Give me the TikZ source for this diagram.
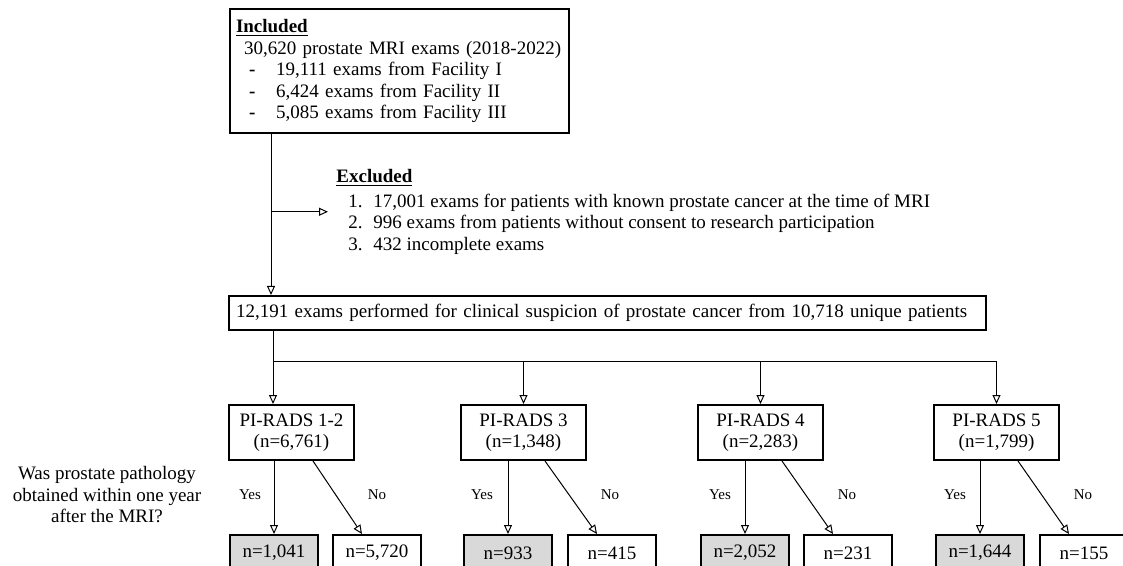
\documentclass[tikz,border=0pt]{standalone}
\usepackage{fontspec}
\setmainfont{Liberation Serif}
\usetikzlibrary{arrows.meta}
\definecolor{yesgray}{HTML}{D9D9D9}

\begin{document}
\begin{tikzpicture}[x=0.5pt, y=-0.5pt,
    font=\fontsize{9.5}{10.75}\selectfont,
    box/.style={draw, line width=1pt, inner sep=0pt},
    arr/.style={line width=0.5pt, -{Triangle[open, length=4.5pt, width=4pt]}},
    link/.style={line width=0.5pt},
    pirads/.style={box, align=center, minimum width=62.5pt, minimum height=27.5pt, anchor=north west},
    result/.style={box, minimum width=44pt, minimum height=18pt, anchor=north west},
    yesbox/.style={result, fill=yesgray},
    answer/.style={font=\fontsize{7.5}{9}\selectfont}]

    \useasboundingbox (0,0) rectangle (1123,566);
    \clip (0,0) rectangle (1123,566);

    % Included box
    \node[box, anchor=north west, text width=163.5pt, align=left, inner xsep=3pt, inner ysep=5.2pt] (incl) at (229,8) {%
        \underline{\textbf{Included}}\\
        \hspace*{4pt}30,620 prostate MRI exams (2018-2022)\\
        \hspace*{6.5pt}\makebox[13.5pt][l]{\textbf{-}}19,111 exams from Facility I\\
        \hspace*{6.5pt}\makebox[13.5pt][l]{\textbf{-}}6,424 exams from Facility II\\
        \hspace*{6.5pt}\makebox[13.5pt][l]{\textbf{-}}5,085 exams from Facility III};

    % Excluded text
    \node[anchor=north west, align=left, inner xsep=4pt, inner ysep=0pt] (excl) at (328,169) {%
        \underline{\textbf{Excluded}}\\[1.5pt]
        \hspace*{6pt}\makebox[12.5pt][l]{1.}17,001 exams for patients with known prostate cancer at the time of MRI\\
        \hspace*{6pt}\makebox[12.5pt][l]{2.}996 exams from patients without consent to research participation\\
        \hspace*{6pt}\makebox[12.5pt][l]{3.}432 incomplete exams};

    % Suspicion box
    \node[box, anchor=north west, text width=371.5pt, align=left, inner xsep=3.5pt, minimum height=17pt] (susp) at (228,295)
        {12,191 exams performed for clinical suspicion of prostate cancer from 10,718 unique patients};

    % PI-RADS boxes
    \node[pirads] (pr12) at (228,404) {PI-RADS 1-2\\(n=6,761)};
    \node[pirads] (pr3) at (460,404) {PI-RADS 3\\(n=1,348)};
    \node[pirads] (pr4) at (697,404) {PI-RADS 4\\(n=2,283)};
    \node[pirads] (pr5) at (933,404) {PI-RADS 5\\(n=1,799)};

    % Pathology boxes
    \node[yesbox] (yes12) at (229,534) {n=1,041};
    \node[result] (no12) at (332,534) {n=5,720};
    \node[yesbox] (yes3) at (463,534) {n=933};
    \node[result] (no3) at (567,534) {n=415};
    \node[yesbox] (yes4) at (700,534) {n=2,052};
    \node[result] (no4) at (803,534) {n=231};
    \node[yesbox] (yes5) at (935,534) {n=1,644};
    \node[result] (no5) at (1039,534) {n=155};

    % Question
    \node[align=center] (quest) at (107,495) {Was prostate pathology\\obtained within one year\\after the MRI?};

    % Main trunk and exclusion branch
    \coordinate (trunk) at (271,0);
    \draw[arr] (trunk |- incl.south) -- (trunk |- susp.north);
    \draw[arr] (trunk |- excl.west) -- (excl.west);

    % Split to PI-RADS groups
    \coordinate (split) at (273,361);
    \draw[arr] (split |- susp.south) -- (split |- pr12.north);
    \draw[link] (split) -- (split -| pr5.north);
    \draw[arr] (split -| pr3.north) -- (pr3.north);
    \draw[arr] (split -| pr4.north) -- (pr4.north);
    \draw[arr] (split -| pr5.north) -- (pr5.north);

    % Yes / No
    \draw[arr] (yes12.north |- pr12.south) -- (yes12.north);
    \draw[arr] ([xshift=10.75pt]pr12.south) -- ([xshift=-7.5pt]no12.north);
    \draw[arr] (yes3.north |- pr3.south) -- (yes3.north);
    \draw[arr] ([xshift=10.75pt]pr3.south) -- ([xshift=-7.5pt]no3.north);
    \draw[arr] (yes4.north |- pr4.south) -- (yes4.north);
    \draw[arr] ([xshift=10.75pt]pr4.south) -- ([xshift=-7.5pt]no4.north);
    \draw[arr] (yes5.north |- pr5.south) -- (yes5.north);
    \draw[arr] ([xshift=10.75pt]pr5.south) -- ([xshift=-7.5pt]no5.north);

    \node[answer] (y12) at (250,495) {Yes};
    \node[answer] (n12) at (377,495) {No};
    \node[answer] (y3) at (482,495) {Yes};
    \node[answer] (n3) at (610,495) {No};
    \node[answer] (y4) at (720,495) {Yes};
    \node[answer] (n4) at (847,495) {No};
    \node[answer] (y5) at (955,495) {Yes};
    \node[answer] (n5) at (1083,495) {No};

\end{tikzpicture}
\end{document}
